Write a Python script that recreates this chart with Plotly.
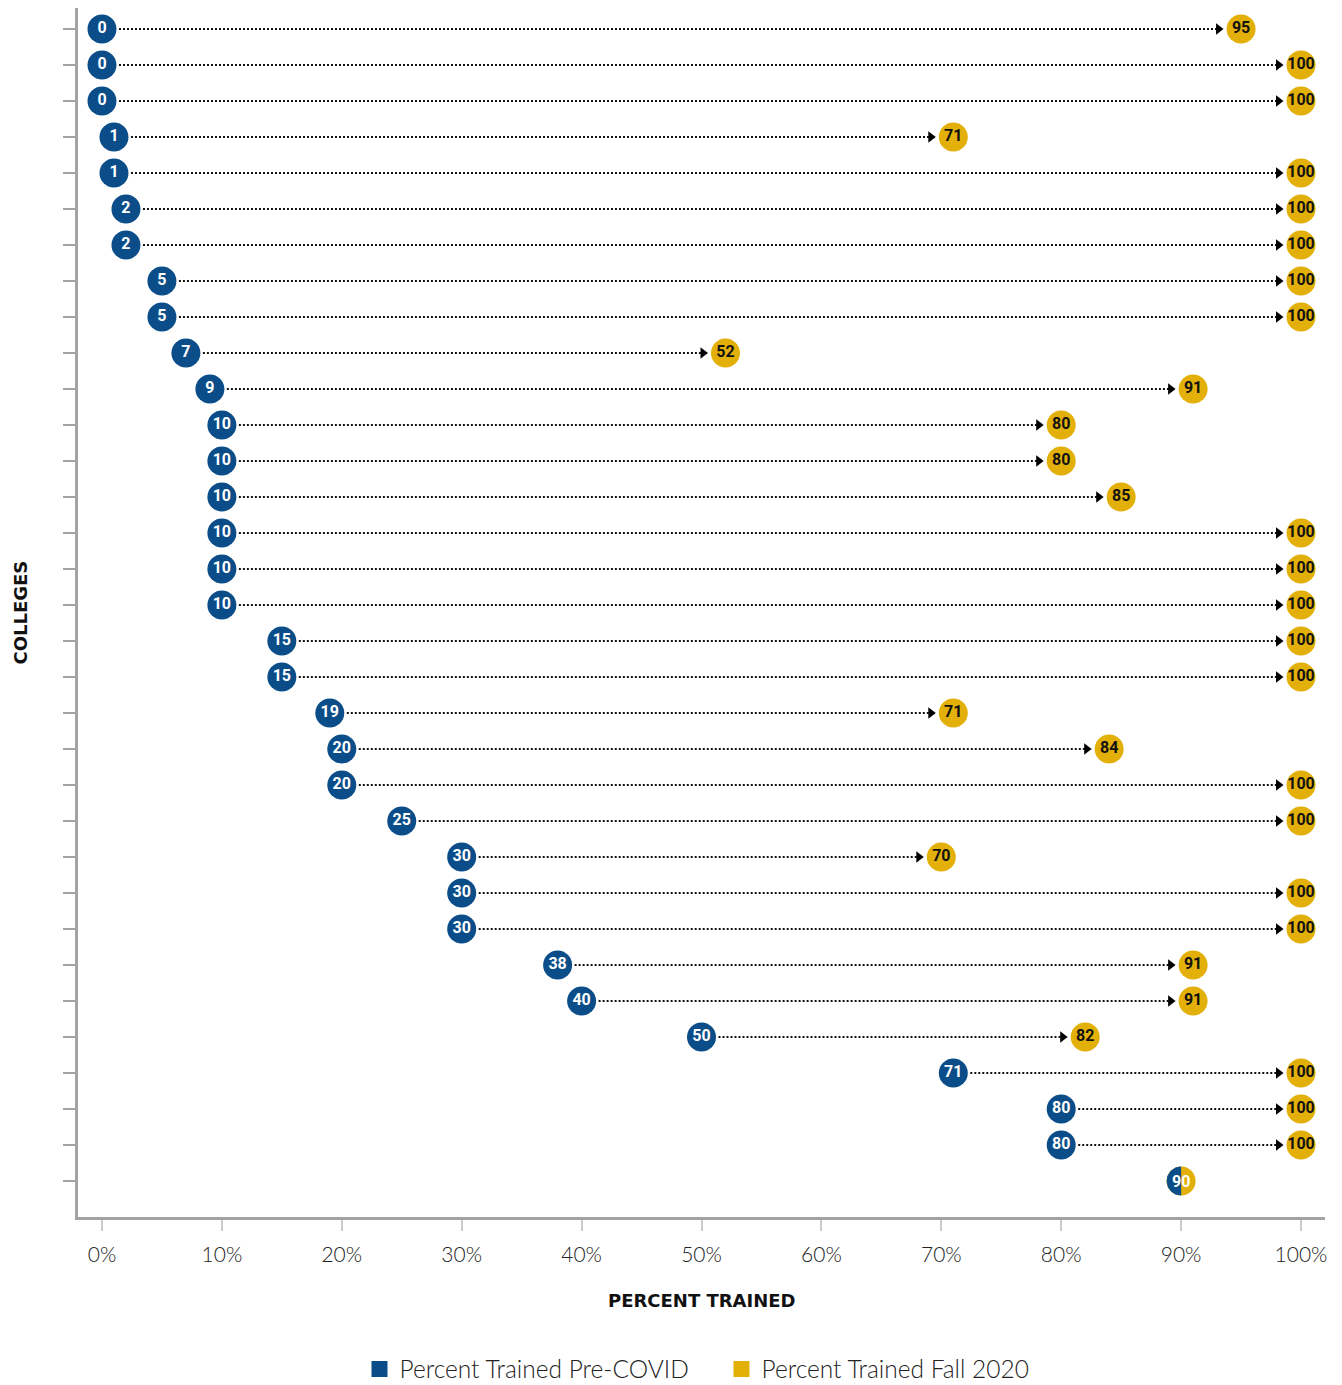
import math
import plotly.graph_objects as go

# ---- data ----
colleges = list(range(33))
pre_covid = [0, 0, 0, 1, 1, 2, 2, 5, 5, 7, 9, 10, 10, 10, 10, 10, 10, 15, 15, 19,
             20, 20, 25, 30, 30, 30, 38, 40, 50, 71, 80, 80, 90]
fall_2020 = [95, 100, 100, 71, 100, 100, 100, 100, 100, 52, 91, 80, 80, 85, 100, 100,
             100, 100, 100, 71, 84, 100, 100, 70, 100, 100, 91, 91, 82, 100, 100, 100, 90]
x_ticks = [0, 10, 20, 30, 40, 50, 60, 70, 80, 90, 100]
x_tick_labels = [f"{v}%" for v in x_ticks]
series_names = ["Percent Trained Pre-COVID", "Percent Trained Fall 2020"]

BLUE = "#0b4d89"
GOLD = "#e2b008"
AXIS = "#a3a3a3"

# page body has an 8px margin -> figure sized to fill the rest of the window
W, H = 1334, 1377
M = dict(l=70, r=17, t=0, b=168, autoexpand=False)
X_RANGE = [-2, 102]
PLOT_H = H - M["t"] - M["b"]
PLOT_W = W - M["l"] - M["r"]
ROW_PX = 36.0
Y_TOP = -21 / ROW_PX
Y_RANGE = [Y_TOP + PLOT_H / ROW_PX, Y_TOP]
px_per_unit = PLOT_W / (X_RANGE[1] - X_RANGE[0])
R = 14.5  # marker radius px
NUM_FONT = dict(family="Roboto", size=16, weight=700)

fig = go.Figure()

# dotted connectors
lx, ly = [], []
tx, ty = [], []
for yv, a, b in zip(colleges, pre_covid, fall_2020):
    if b > a:
        lx += [a + 17 / px_per_unit, b - 24 / px_per_unit, None]
        ly += [yv, yv, None]
        tx.append(b - 22.5 / px_per_unit)
        ty.append(yv)
fig.add_trace(go.Scatter(x=lx, y=ly, mode="lines",
                         line=dict(color="#111", width=1.8, dash="2px,2px"),
                         hoverinfo="skip", showlegend=False))
fig.add_trace(go.Scatter(x=tx, y=ty, mode="markers",
                         marker=dict(symbol="triangle-right", size=10, color="#000"),
                         hoverinfo="skip", showlegend=False))

# pre-covid markers (rows where pre != post)
pre_idx = [i for i in colleges if pre_covid[i] != fall_2020[i]]
fig.add_trace(go.Scatter(
    x=[pre_covid[i] for i in pre_idx], y=[colleges[i] for i in pre_idx],
    mode="markers+text", text=[str(pre_covid[i]) for i in pre_idx],
    textposition="middle center",
    textfont=dict(color="white", **NUM_FONT),
    marker=dict(size=2 * R, color=BLUE, line=dict(width=0)),
    cliponaxis=False, showlegend=False, name=series_names[0]))

# fall 2020 markers
fig.add_trace(go.Scatter(
    x=fall_2020, y=colleges, mode="markers+text",
    text=[str(b) if b != a else "" for a, b in zip(pre_covid, fall_2020)],
    textposition="middle center",
    textfont=dict(color="#111", **NUM_FONT),
    marker=dict(size=2 * R, color=GOLD, line=dict(width=0)),
    cliponaxis=False, showlegend=False, name=series_names[1]))

# split markers where pre == post: left half blue over the gold circle
for yv, a, b in zip(colleges, pre_covid, fall_2020):
    if a == b:
        n = 48
        hx = [a - (R * math.sin(math.pi * k / n)) / px_per_unit for k in range(n + 1)]
        hy = [yv + (R * math.cos(math.pi * k / n)) / ROW_PX for k in range(n + 1)]
        fig.add_trace(go.Scatter(x=hx, y=hy, mode="lines", fill="toself",
                                 fillcolor=BLUE, line=dict(width=0, color=BLUE),
                                 hoverinfo="skip", showlegend=False))
        fig.add_annotation(x=a, y=yv, text=str(a), showarrow=False,
                           font=dict(color="white", **NUM_FONT))

# legend dummies
fig.add_trace(go.Scatter(x=[None], y=[None], mode="markers", name=series_names[0],
                         marker=dict(symbol="square", size=18, color=BLUE)))
fig.add_trace(go.Scatter(x=[None], y=[None], mode="markers", name=series_names[1],
                         marker=dict(symbol="square", size=18, color=GOLD)))

# axis titles
fig.add_annotation(x=0.5, y=0, xref="paper", yref="paper", yshift=-83,
                   text="PERCENT TRAINED", showarrow=False, yanchor="middle",
                   font=dict(family="DejaVu Sans", size=18, color="#111", weight=700))
fig.add_annotation(x=0, y=0.5, xref="paper", yref="paper", xshift=-58,
                   text="COLLEGES", showarrow=False, textangle=-90, xanchor="center",
                   font=dict(family="DejaVu Sans", size=18, color="#111", weight=700))

fig.update_layout(
    width=W, height=H, margin=M,
    paper_bgcolor="white", plot_bgcolor="white",
    xaxis=dict(range=X_RANGE, tickvals=x_ticks, ticktext=x_tick_labels,
               ticks="outside", ticklen=11, tickwidth=2, tickcolor="#cccccc",
               showline=True, linecolor=AXIS, linewidth=2.5,
               showgrid=False, zeroline=False, ticklabelstandoff=6,
               tickfont=dict(family="Lato", size=21, color="#222", weight=300)),
    yaxis=dict(range=Y_RANGE, tickvals=colleges, showticklabels=False,
               ticks="outside", ticklen=12, tickwidth=2, tickcolor=AXIS,
               showline=True, linecolor=AXIS, linewidth=2.5,
               showgrid=False, zeroline=False),
    legend=dict(orientation="h", x=0.5 + 20 / PLOT_W, xanchor="center",
                y=-152 / PLOT_H, yanchor="middle",
                font=dict(family="Lato", size=24.5, color="#222", weight=300),
                entrywidth=317, entrywidthmode="pixels"),
    showlegend=True,
)

fig.write_html("out.html")
